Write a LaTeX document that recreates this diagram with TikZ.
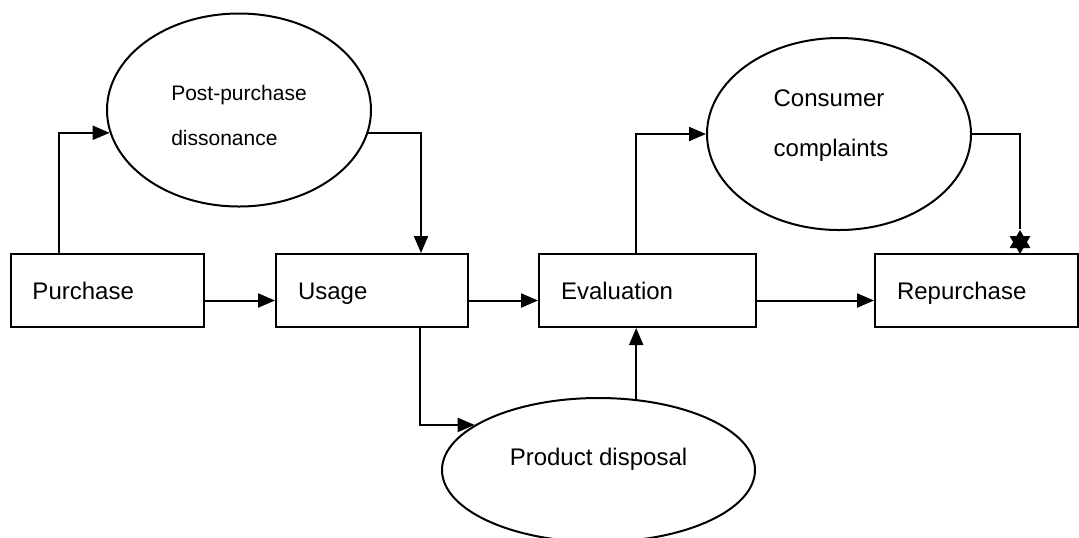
\documentclass[tikz,border=0pt]{standalone}
\usepackage{fontspec}
\setmainfont{Liberation Sans}
\usepackage{tikz}
\usetikzlibrary{arrows.meta, positioning, shapes.geometric}

\begin{document}
\begin{tikzpicture}[
  x=0.5pt, y=-0.5pt,
  box/.style = {draw, line width=1pt, minimum height=36.5pt, inner xsep=11pt, inner ysep=0pt,
                text width=#1, text height=11.6pt, text depth=2.5pt, align=left,
                font=\fontsize{12}{14}\selectfont},
  oval/.style = {draw, line width=1pt, ellipse, inner sep=0pt},
  arrow/.style = {line width=1pt, -{Triangle[length=8.5pt, width=7pt]}},
  line/.style = {line width=1pt}
]
  \useasboundingbox (0,0) rectangle (1079,537);

  % Main chain of boxes
  \node[box=74.5pt] (purchase) at (107,290.5) {Purchase};
  \node[box=74pt, right=35.25pt of purchase] (usage) {Usage};
  \node[box=86.5pt, right=34.5pt of usage] (evaluation) {Evaluation};
  \node[box=79.5pt, right=58.5pt of evaluation] (repurchase) {Repurchase};

  % Ellipses
  \node[oval, minimum width=132pt, minimum height=96.5pt,
        label={[align=left, yshift=-2.5pt, font=\fontsize{10.5}{12}\selectfont]center:Post-purchase\\[10.5pt]dissonance}]
    (dissonance) at (239,110) {};
  \node[oval, minimum width=132pt, minimum height=96pt,
        label={[align=left, xshift=-4pt, yshift=4pt, font=\fontsize{12}{14}\selectfont]center:Consumer\\[11pt]complaints}]
    (complaints) at (839,134) {};
  \node[oval, minimum width=156.5pt, minimum height=72pt,
        label={[yshift=5.5pt, font=\fontsize{12}{14}\selectfont]center:Product disposal}]
    (disposal) at (598.5,470) {};

  % Star-shaped tip on repurchase
  \node[star, star points=6, star point ratio=1.73, fill, inner sep=0pt, minimum size=12pt]
    (startip) at ([xshift=21.75pt, yshift=5.5pt]repurchase.north) {};

  % Straight flow
  \draw[arrow] ([yshift=-5pt]purchase.east) -- ([yshift=-5pt]usage.west);
  \draw[arrow] ([yshift=-5pt]usage.east) -- ([yshift=-5pt]evaluation.west);
  \draw[arrow] ([yshift=-5pt]evaluation.east) -- ([yshift=-5pt]repurchase.west);

  % Purchase -> dissonance -> usage
  \draw[arrow] ([xshift=-24pt]purchase.north) |- (dissonance.190);
  \draw[arrow] (dissonance.-10) -| ([xshift=24.5pt]usage.north);

  % Usage -> disposal -> evaluation
  \draw[arrow] ([xshift=24pt]usage.south) |- (disposal.160);
  \draw[arrow] (disposal.62) -- (disposal.62 |- evaluation.south);

  % Evaluation -> complaints -> repurchase
  \draw[arrow] (disposal.62 |- evaluation.north) |- (complaints.west);
  \draw[line] (complaints.east) -| (startip.north);

\end{tikzpicture}
\end{document}
